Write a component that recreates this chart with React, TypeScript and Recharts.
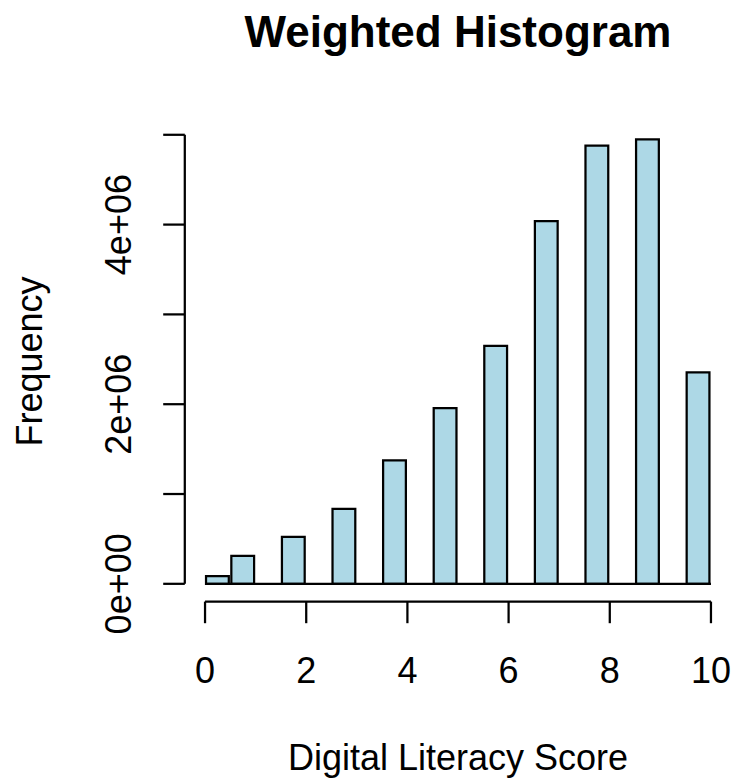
import React from 'react';
import { ComposedChart, Bar, XAxis, YAxis, ReferenceLine } from 'recharts';

// ---- data ----
const binStarts = [0, 0.5, 1, 1.5, 2, 2.5, 3, 3.5, 4, 4.5, 5, 5.5, 6, 6.5, 7, 7.5, 8, 8.5, 9, 9.5];
const binWidth = 0.5;
const frequencies = [
  86000, 312000, 0, 523000, 0, 835000, 0, 1374000, 0, 1957000,
  0, 2650000, 0, 4040000, 0, 4880000, 0, 4950000, 0, 2354000,
];
const xTicks = [0, 2, 4, 6, 8, 10];
const yTicks = [0, 1000000, 2000000, 3000000, 4000000, 5000000];
const yTickLabels: Record<number, string> = { 0: '0e+00', 2000000: '2e+06', 4000000: '4e+06' };
const title = 'Weighted Histogram';
const xLabel = 'Digital Literacy Score';
const yLabel = 'Frequency';

// ---- layout / style ----
const W = 734;
const H = 783;
const PLOT_LEFT = 184.8;
const PLOT_RIGHT = 731.2;
const PLOT_TOP = 121.5;
const PLOT_BOTTOM = 601.6;
const LW = 2.25;
const FONT = '"Liberation Sans", Arial, Helvetica, sans-serif';
const FS = 36;
const TICK_LEN = 21.6;

const xMin = binStarts[0];
const xMax = binStarts[binStarts.length - 1] + binWidth;
const xPad = 0.04 * (xMax - xMin);
const xDomain: [number, number] = [xMin - xPad, xMax + xPad];
const yMax = Math.max(...frequencies);
const yPad = 0.04 * yMax;
const yDomain: [number, number] = [-yPad, yMax + yPad];

const data = binStarts.map((s, i) => ({ mid: s + binWidth / 2, freq: frequencies[i] }));
const barSize = ((PLOT_RIGHT - PLOT_LEFT) / (xDomain[1] - xDomain[0])) * binWidth;

const XTick = (props: any) => {
  const { x, y, payload } = props;
  return (
    <text x={x} y={y} textAnchor="middle" fontSize={FS} fontFamily={FONT} fill="#000">
      {payload.value}
    </text>
  );
};

const YTick = (props: any) => {
  const { x, y, payload } = props;
  const label = yTickLabels[payload.value];
  if (!label) return <g />;
  return (
    <text
      x={x}
      y={y}
      transform={`rotate(-90 ${x} ${y})`}
      textAnchor="middle"
      fontSize={FS}
      fontFamily={FONT}
      fill="#000"
    >
      {label}
    </text>
  );
};

export default function App() {
  const cx = (PLOT_LEFT + PLOT_RIGHT) / 2;
  const cy = (PLOT_TOP + PLOT_BOTTOM) / 2;
  return (
    <div style={{ position: 'absolute', left: 0, top: 0, width: W, height: H, background: '#fff' }}>
      <ComposedChart
        width={W}
        height={H}
        data={data}
        margin={{ top: PLOT_TOP, right: W - PLOT_RIGHT, bottom: 0, left: 0 }}
        barCategoryGap={0}
        barGap={0}
      >
        <XAxis
          dataKey="mid"
          type="number"
          domain={xDomain}
          ticks={xTicks}
          allowDataOverflow
          interval={0}
          height={H - PLOT_BOTTOM}
          axisLine={false}
          tickLine={{ stroke: '#000', strokeWidth: LW }}
          tickSize={TICK_LEN}
          tickMargin={59.6}
          tick={<XTick />}
        />
        <YAxis
          type="number"
          domain={yDomain}
          ticks={yTicks}
          allowDataOverflow
          interval={0}
          width={PLOT_LEFT}
          axisLine={false}
          tickLine={{ stroke: '#000', strokeWidth: LW }}
          tickSize={TICK_LEN}
          tickMargin={32}
          tick={<YTick />}
        />
        <Bar
          dataKey="freq"
          fill="#ADD8E6"
          stroke="#000"
          strokeWidth={LW}
          barSize={barSize}
          isAnimationActive={false}
        />
        <ReferenceLine
          segment={[{ x: xMin, y: 0 }, { x: xMax, y: 0 }]}
          stroke="#000"
          strokeWidth={LW}
          ifOverflow="visible"
        />
        <ReferenceLine
          segment={[{ x: xTicks[0], y: yDomain[0] }, { x: xTicks[xTicks.length - 1], y: yDomain[0] }]}
          stroke="#000"
          strokeWidth={LW}
          ifOverflow="visible"
        />
        <ReferenceLine
          segment={[{ x: xDomain[0], y: yTicks[0] }, { x: xDomain[0], y: yTicks[yTicks.length - 1] }]}
          stroke="#000"
          strokeWidth={LW}
          ifOverflow="visible"
        />
      </ComposedChart>
      <svg
        width={W}
        height={H}
        style={{ position: 'absolute', left: 0, top: 0, pointerEvents: 'none' }}
      >
        <text x={cx} y={47} textAnchor="middle" fontSize={44} fontWeight="bold" fontFamily={FONT} fill="#000">
          {title}
        </text>
        <text x={cx} y={770} textAnchor="middle" fontSize={FS} fontFamily={FONT} fill="#000">
          {xLabel}
        </text>
        <text
          x={42}
          y={cy}
          transform={`rotate(-90 42 ${cy})`}
          textAnchor="middle"
          fontSize={FS}
          fontFamily={FONT}
          fill="#000"
        >
          {yLabel}
        </text>
      </svg>
    </div>
  );
}
